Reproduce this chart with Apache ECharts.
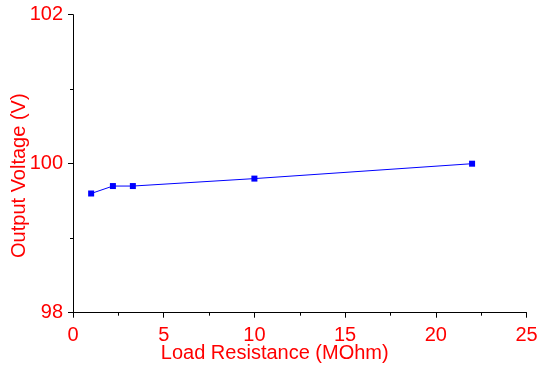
<!DOCTYPE html>
<html>
<head>
<meta charset="utf-8">
<script src="https://cdn.jsdelivr.net/npm/echarts@6/dist/echarts.min.js"></script>
<style>
  html, body { margin: 0; padding: 0; background: #fff; }
  #chart { width: 541px; height: 367px; }
</style>
</head>
<body>
<div id="chart"></div>
<script>
// load resistance (MOhm) vs output voltage (V)
const resistance = [1, 2.2, 3.3, 10, 22];
const voltage = [99.6, 99.7, 99.7, 99.8, 100.0];

const red = '#ff0000';
const font = 'Liberation Sans, Arial, sans-serif';

// second axes only carry the short half-step ticks, drawn outward
const tickOnly = (extra) => Object.assign({
  type: 'value',
  axisLine: { show: false, onZero: false },
  axisTick: { show: true, inside: false, length: 3, lineStyle: { color: '#000' } },
  axisLabel: { show: false },
  splitLine: { show: false }
}, extra);

const chart = echarts.init(document.getElementById('chart'));
chart.setOption({
  animation: false,
  grid: { left: 73, right: 14.5, top: 14.7, bottom: 54.3, outerBoundsMode: 'none', containLabel: false },
  xAxis: [{
    type: 'value',
    min: 0,
    max: 25,
    interval: 5,
    name: 'Load Resistance (MOhm)',
    nameLocation: 'middle',
    nameGap: 31,
    nameMoveOverlap: false,
    nameTextStyle: { color: red, fontSize: 20, fontFamily: font, padding: [0, 50, 0, 0] },
    axisLine: { onZero: false, lineStyle: { color: '#000', width: 1 } },
    axisTick: { show: true, inside: false, length: 5, lineStyle: { color: '#000' } },
    axisLabel: { color: red, fontSize: 20, fontFamily: font, margin: 13 },
    splitLine: { show: false }
  }, tickOnly({ min: 0, max: 25, interval: 2.5, position: 'bottom' })],
  yAxis: [{
    type: 'value',
    min: 98,
    max: 102,
    interval: 2,
    name: 'Output Voltage (V)',
    nameLocation: 'middle',
    nameGap: 44,
    nameMoveOverlap: false,
    nameTextStyle: { color: red, fontSize: 20, fontFamily: font, padding: [0, 24, 0, 0] },
    axisLine: { show: true, onZero: false, lineStyle: { color: '#000', width: 1 } },
    axisTick: { show: true, inside: false, length: 5, lineStyle: { color: '#000' } },
    axisLabel: { color: red, fontSize: 20, fontFamily: font, margin: 10 },
    splitLine: { show: false }
  }, tickOnly({ min: 98, max: 102, interval: 1, position: 'left' })],
  series: [{
    type: 'line',
    data: resistance.map((r, i) => [r, voltage[i]]),
    symbol: 'rect',
    symbolSize: 6,
    itemStyle: { color: '#0000ff' },
    lineStyle: { color: '#0000ff', width: 1 }
  }]
});
</script>
</body>
</html>
